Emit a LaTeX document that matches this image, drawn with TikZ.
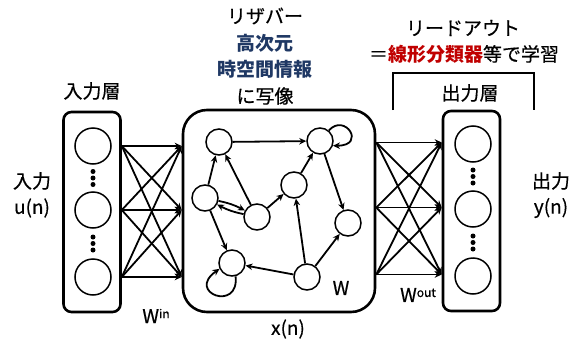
\documentclass[tikz,border=0pt]{standalone}
\usepackage{fontspec}
\setmainfont{Noto Sans CJK JP}[UprightFeatures={FakeBold=0.5}]
\usetikzlibrary{arrows.meta,calc}
\definecolor{navyt}{HTML}{1F3864}
\definecolor{redt}{HTML}{C00000}
\begin{document}
\begin{tikzpicture}[x=1pt,y=-1pt,
  layerbox/.style={draw, line width=2.6pt, rounded corners=8pt, minimum width=57pt, minimum height=200pt, inner sep=0pt},
  unit/.style={draw, circle, line width=1.5pt, minimum size=36pt, inner sep=0pt},
  rnode/.style={draw, circle, line width=1.5pt, minimum size=26pt, inner sep=0pt},
  conn/.style={line width=1.8pt, -{Stealth[length=7pt,width=6.5pt]}},
  dotn/.style={circle, fill, inner sep=0pt, minimum size=5pt},
  lbl/.style={font=\fontsize{19}{23}\selectfont, inner sep=0pt, anchor=center}]
\useasboundingbox (0,0) rectangle (584,343);

% boxes
\node[layerbox] (inbox) at (92,212) {};
\node[layerbox] (outbox) at (471.5,211) {};
\node[draw, line width=2.6pt, rounded corners=24pt, minimum width=192pt, minimum height=202pt, inner sep=0pt] (res) at (279,211) {};

% input / output units
\node[unit] (ic1) at (93,146) {};
\node[unit] (ic2) at (93,210) {};
\node[unit] (ic3) at (93,277) {};
\node[unit] (oc1) at (473,144) {};
\node[unit] (oc2) at (473,209) {};
\node[unit] (oc3) at (473,276) {};

% dots
\foreach \a/\b/\n in {ic1/ic2/a, ic2/ic3/b, oc1/oc2/c, oc2/oc3/d}{
  \node[dotn] (\n1) at ($(\a)!0.5!(\b)+(0pt,6.5pt)$) {};
  \node[dotn] (\n2) at ($(\a)!0.5!(\b)$) {};
  \node[dotn] (\n3) at ($(\a)!0.5!(\b)+(0pt,-6.5pt)$) {};
}

% full connections
\foreach \s in {1,2,3}{
  \foreach \t in {1,2,3}{
    \draw[conn] (inbox.east |- ic\s) -- (res.west |- ic\t);
    \draw[conn] ([yshift=1.5pt]res.east |- oc\s) -- ([yshift=1.5pt]outbox.west |- oc\t);
  }
}

% reservoir nodes
\node[rnode] (A) at (219,142) {};
\node[rnode] (B) at (320,141) {};
\node[rnode] (C) at (205,198) {};
\node[rnode] (D) at (257,217) {};
\node[rnode] (E) at (294,185) {};
\node[rnode] (F) at (348,223) {};
\node[rnode] (G) at (232,263) {};
\node[rnode] (H) at (307,277) {};

\draw[conn] (A) -- (B);
\draw[conn] (C) -- (A);
\draw[conn] (D) -- (A);
\draw[conn] (C) to[bend left=8] (D);
\draw[conn] (D) to[bend left=8] (C);
\draw[conn] (D) -- (E);
\draw[conn] (E) -- (B);
\draw[conn] (B) -- (F);
\draw[conn] (C) -- (G);
\draw[conn] (H) -- (G);
\draw[conn] (H) -- (E);
\draw[conn] (H) -- (F);
\draw[conn] (B.50) .. controls +(16pt,18pt) and +(34pt,0pt) .. (B.-20);
\draw[conn] (G.-75) .. controls +(4pt,-36pt) and +(-34pt,-24pt) .. (G.205);

% bracket
\coordinate (bk1) at (393,110);
\coordinate (bk2) at (393,73);
\coordinate (bk3) at (534,73);
\coordinate (bk4) at (534,110);
\draw[line width=2.6pt] (bk1) -- (bk2) -- (bk3) -- (bk4);

% texts
\node[lbl] (t1) at (265,16) {リザバー};
\node[lbl, text=navyt] (t2) at (265,43) {\bfseries 高次元};
\node[lbl, text=navyt] (t3) at (265,69) {\bfseries 時空間情報};
\node[lbl] (t4) at (265,96) {に写像};
\node[lbl] (t5) at (92,91) {入力層};
\node[lbl] (t6) at (463,28) {リードアウト};
\node[lbl] (t7) at (464,54) {＝{\color{redt}\bfseries 線形分類器}等で学習};
\node[lbl] (t8) at (470,93) {出力層};
\node[lbl] (t9) at (32,181) {入力};
\node[lbl] (t10) at (32,208) {u(n)};
\node[lbl] (t11) at (551,181) {出力};
\node[lbl] (t12) at (551,208) {y(n)};
\node[lbl] (t13) at (156,316) {W\raisebox{5pt}{\fontsize{12}{12}\selectfont in}};
\node[lbl] (t14) at (418,295) {W\raisebox{5pt}{\fontsize{12}{12}\selectfont out}};
\node[lbl] (t15) at (341,288) {W};
\node[lbl] (t16) at (288,329) {x(n)};
\end{tikzpicture}
\end{document}
